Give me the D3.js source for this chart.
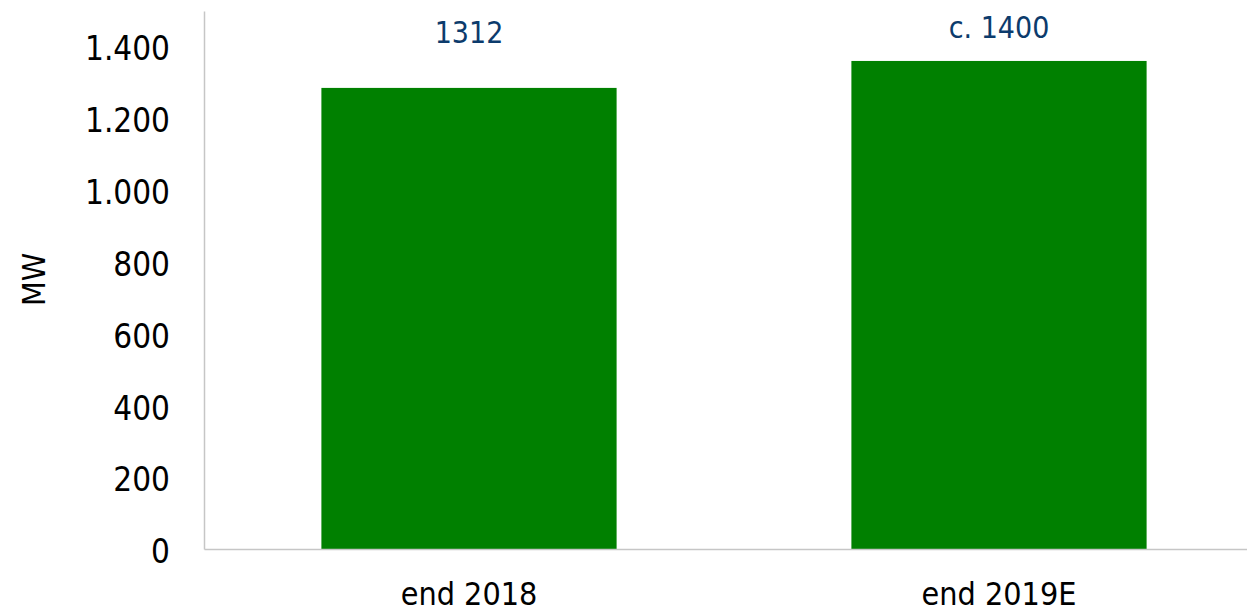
<!DOCTYPE html>
<html>
<head>
<meta charset="utf-8">
<script src="https://cdn.jsdelivr.net/npm/d3@7"></script>
<style>
  html, body { margin: 0; padding: 0; background: #fff; }
  text { font-family: Tahoma, "DejaVu Sans Condensed", "DejaVu Sans", sans-serif; }
</style>
</head>
<body>
<div id="chart"></div>
<script>
// data
var categories = ["end 2018", "end 2019E"];
var capacity = [1283, 1358];          // bar heights, MW
var valueLabels = ["1312", "c. 1400"];
var yTicks = [0, 200, 400, 600, 800, 1000, 1200, 1400];

// look
var width = 1247;
var height = 615;
var barColor = "#008000";
var axisColor = "#c6c6c6";
var labelColor = "#0c3b6c";
var margin = {top: 11, right: -17, bottom: 66, left: 204};
var labelGap = [45, 23]; // data labels sit a bit above the bars

const svg = d3.select("#chart").append("svg")
    .attr("width", width)
    .attr("height", height);

const x = d3.scaleBand()
    .domain(categories)
    .range([margin.left, width - margin.right])
    .paddingInner(0.443)
    .paddingOuter(0.2215);

const y = d3.scaleLinear()
    .domain([0, 1497])
    .range([height - margin.bottom, margin.top]);

const fmt = d => d3.format(",")(d).replace(/,/g, ".");

// y axis
const yAxis = svg.append("g")
    .attr("transform", `translate(${margin.left},0)`)
    .call(d3.axisLeft(y).tickValues(yTicks).tickFormat(fmt).tickSize(0).tickPadding(34));
yAxis.select(".domain").attr("stroke", axisColor).attr("stroke-width", 1.5);
yAxis.selectAll("text")
    .attr("font-size", 33)
    .attr("fill", "#000")
    .attr("dy", "0.42em")
    .style("font-family", null);

// bars
svg.append("g")
  .selectAll("rect")
  .data(capacity)
  .join("rect")
    .attr("x", (d, i) => x(categories[i]))
    .attr("y", d => y(d))
    .attr("width", x.bandwidth())
    .attr("height", d => y(0) - y(d))
    .attr("fill", barColor);

// x axis
const xAxis = svg.append("g")
    .attr("transform", `translate(0,${y(0)})`)
    .call(d3.axisBottom(x).tickSize(0).tickPadding(33));
xAxis.select(".domain").attr("stroke", axisColor).attr("stroke-width", 1.5);
xAxis.selectAll("text")
    .attr("font-size", 32)
    .attr("fill", "#000")
    .style("font-family", null);

// value labels
svg.append("g")
  .selectAll("text")
  .data(valueLabels)
  .join("text")
    .attr("x", (d, i) => x(categories[i]) + x.bandwidth() / 2)
    .attr("y", (d, i) => y(capacity[i]) - labelGap[i])
    .attr("text-anchor", "middle")
    .attr("font-size", 30)
    .attr("fill", labelColor)
    .text(d => d);

// axis title
svg.append("text")
    .attr("transform", `translate(45,${y(750)}) rotate(-90)`)
    .attr("text-anchor", "middle")
    .attr("font-size", 32)
    .attr("fill", "#000")
    .text("MW");
</script>
</body>
</html>
